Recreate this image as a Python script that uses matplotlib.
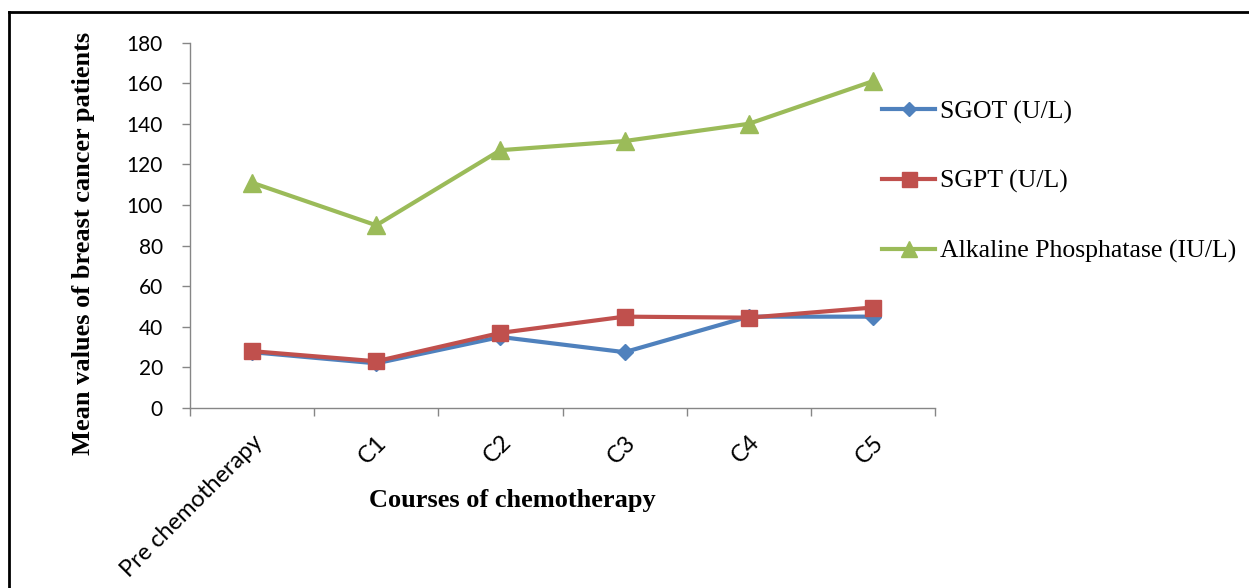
import matplotlib
matplotlib.use("Agg")
import matplotlib.pyplot as plt
from matplotlib.lines import Line2D

# Course labels along the x axis
courses = ["Pre chemotherapy", "C1", "C2", "C3", "C4", "C5"]

# Mean liver-function values per course
sgot = [27.5, 22, 35, 27.5, 45, 45]
sgpt = [28, 23, 37, 45, 44.5, 49.5]
alp = [111, 90, 127, 131.5, 140, 161]

series_labels = ["SGOT (U/L)", "SGPT (U/L)", "Alkaline Phosphatase (IU/L)"]
yticks = [0, 20, 40, 60, 80, 100, 120, 140, 160, 180]

fig = plt.figure(figsize=(12.49, 5.88), dpi=100)
ax = fig.add_axes([190 / 1249, 1 - 408 / 588, 745 / 1249, (408 - 42.6) / 588])

x = list(range(len(courses)))
blue, red, green = "#4F81BD", "#C0504D", "#9BBB59"

l1, = ax.plot(x, sgot, color=blue, lw=3, marker="D", ms=8, mec=blue, zorder=3)
l2, = ax.plot(x, sgpt, color=red, lw=3, marker="s", ms=12, mec=red, zorder=4)
l3, = ax.plot(x, alp, color=green, lw=3, marker="^", ms=13, mec=green, zorder=3)

ax.set_xlim(-0.5, len(courses) - 0.5)
ax.set_ylim(0, 180)
ax.set_yticks(yticks)
ax.set_yticklabels([str(v) for v in yticks], fontfamily="Lato", fontsize=15)

# Category boundaries carry the ticks, labels sit between them
ax.set_xticks([i - 0.5 for i in range(len(courses) + 1)])
ax.set_xticklabels([])
ax.set_xticks(x, minor=True)
ax.set_xticklabels(courses, minor=True, rotation=45, ha="right",
                   rotation_mode="anchor", fontfamily="Lato", fontsize=17)
ax.tick_params(axis="x", which="minor", length=0, pad=17)
ax.tick_params(axis="x", which="major", length=6, width=1, color="#868686", direction="out")
ax.tick_params(axis="y", length=6, width=1, color="#868686", direction="out", pad=13.5)

for side in ("top", "right"):
    ax.spines[side].set_visible(False)
for side in ("left", "bottom"):
    ax.spines[side].set_color("#868686")
    ax.spines[side].set_linewidth(1)

ax.set_ylabel("Mean values of breast cancer patients", fontfamily="Liberation Serif",
              fontweight="bold", fontsize=19)
ax.yaxis.set_label_coords(-0.128, 0.45)
fig.text(512 / 1249, 1 - 501 / 588, "Courses of chemotherapy", fontfamily="Liberation Serif",
         fontweight="bold", fontsize=19, ha="center", va="center")

fig.legend([l1, l2, l3], series_labels, loc="upper left",
           bbox_to_anchor=(872 / 1249, 1 - 90 / 588), frameon=False,
           prop={"family": "Liberation Serif", "size": 18.5},
           labelspacing=1.8, handlelength=2.05, handletextpad=0.2, borderaxespad=0,
           markerscale=0.9)

# Outer frame: top and left edges
fig.add_artist(Line2D([9 / 1249, 1], [1 - 12 / 588, 1 - 12 / 588], color="black", lw=2,
                      transform=fig.transFigure))
fig.add_artist(Line2D([9 / 1249, 9 / 1249], [0, 1 - 12 / 588], color="black", lw=2,
                      transform=fig.transFigure))

fig.savefig("out.png", dpi=100)
